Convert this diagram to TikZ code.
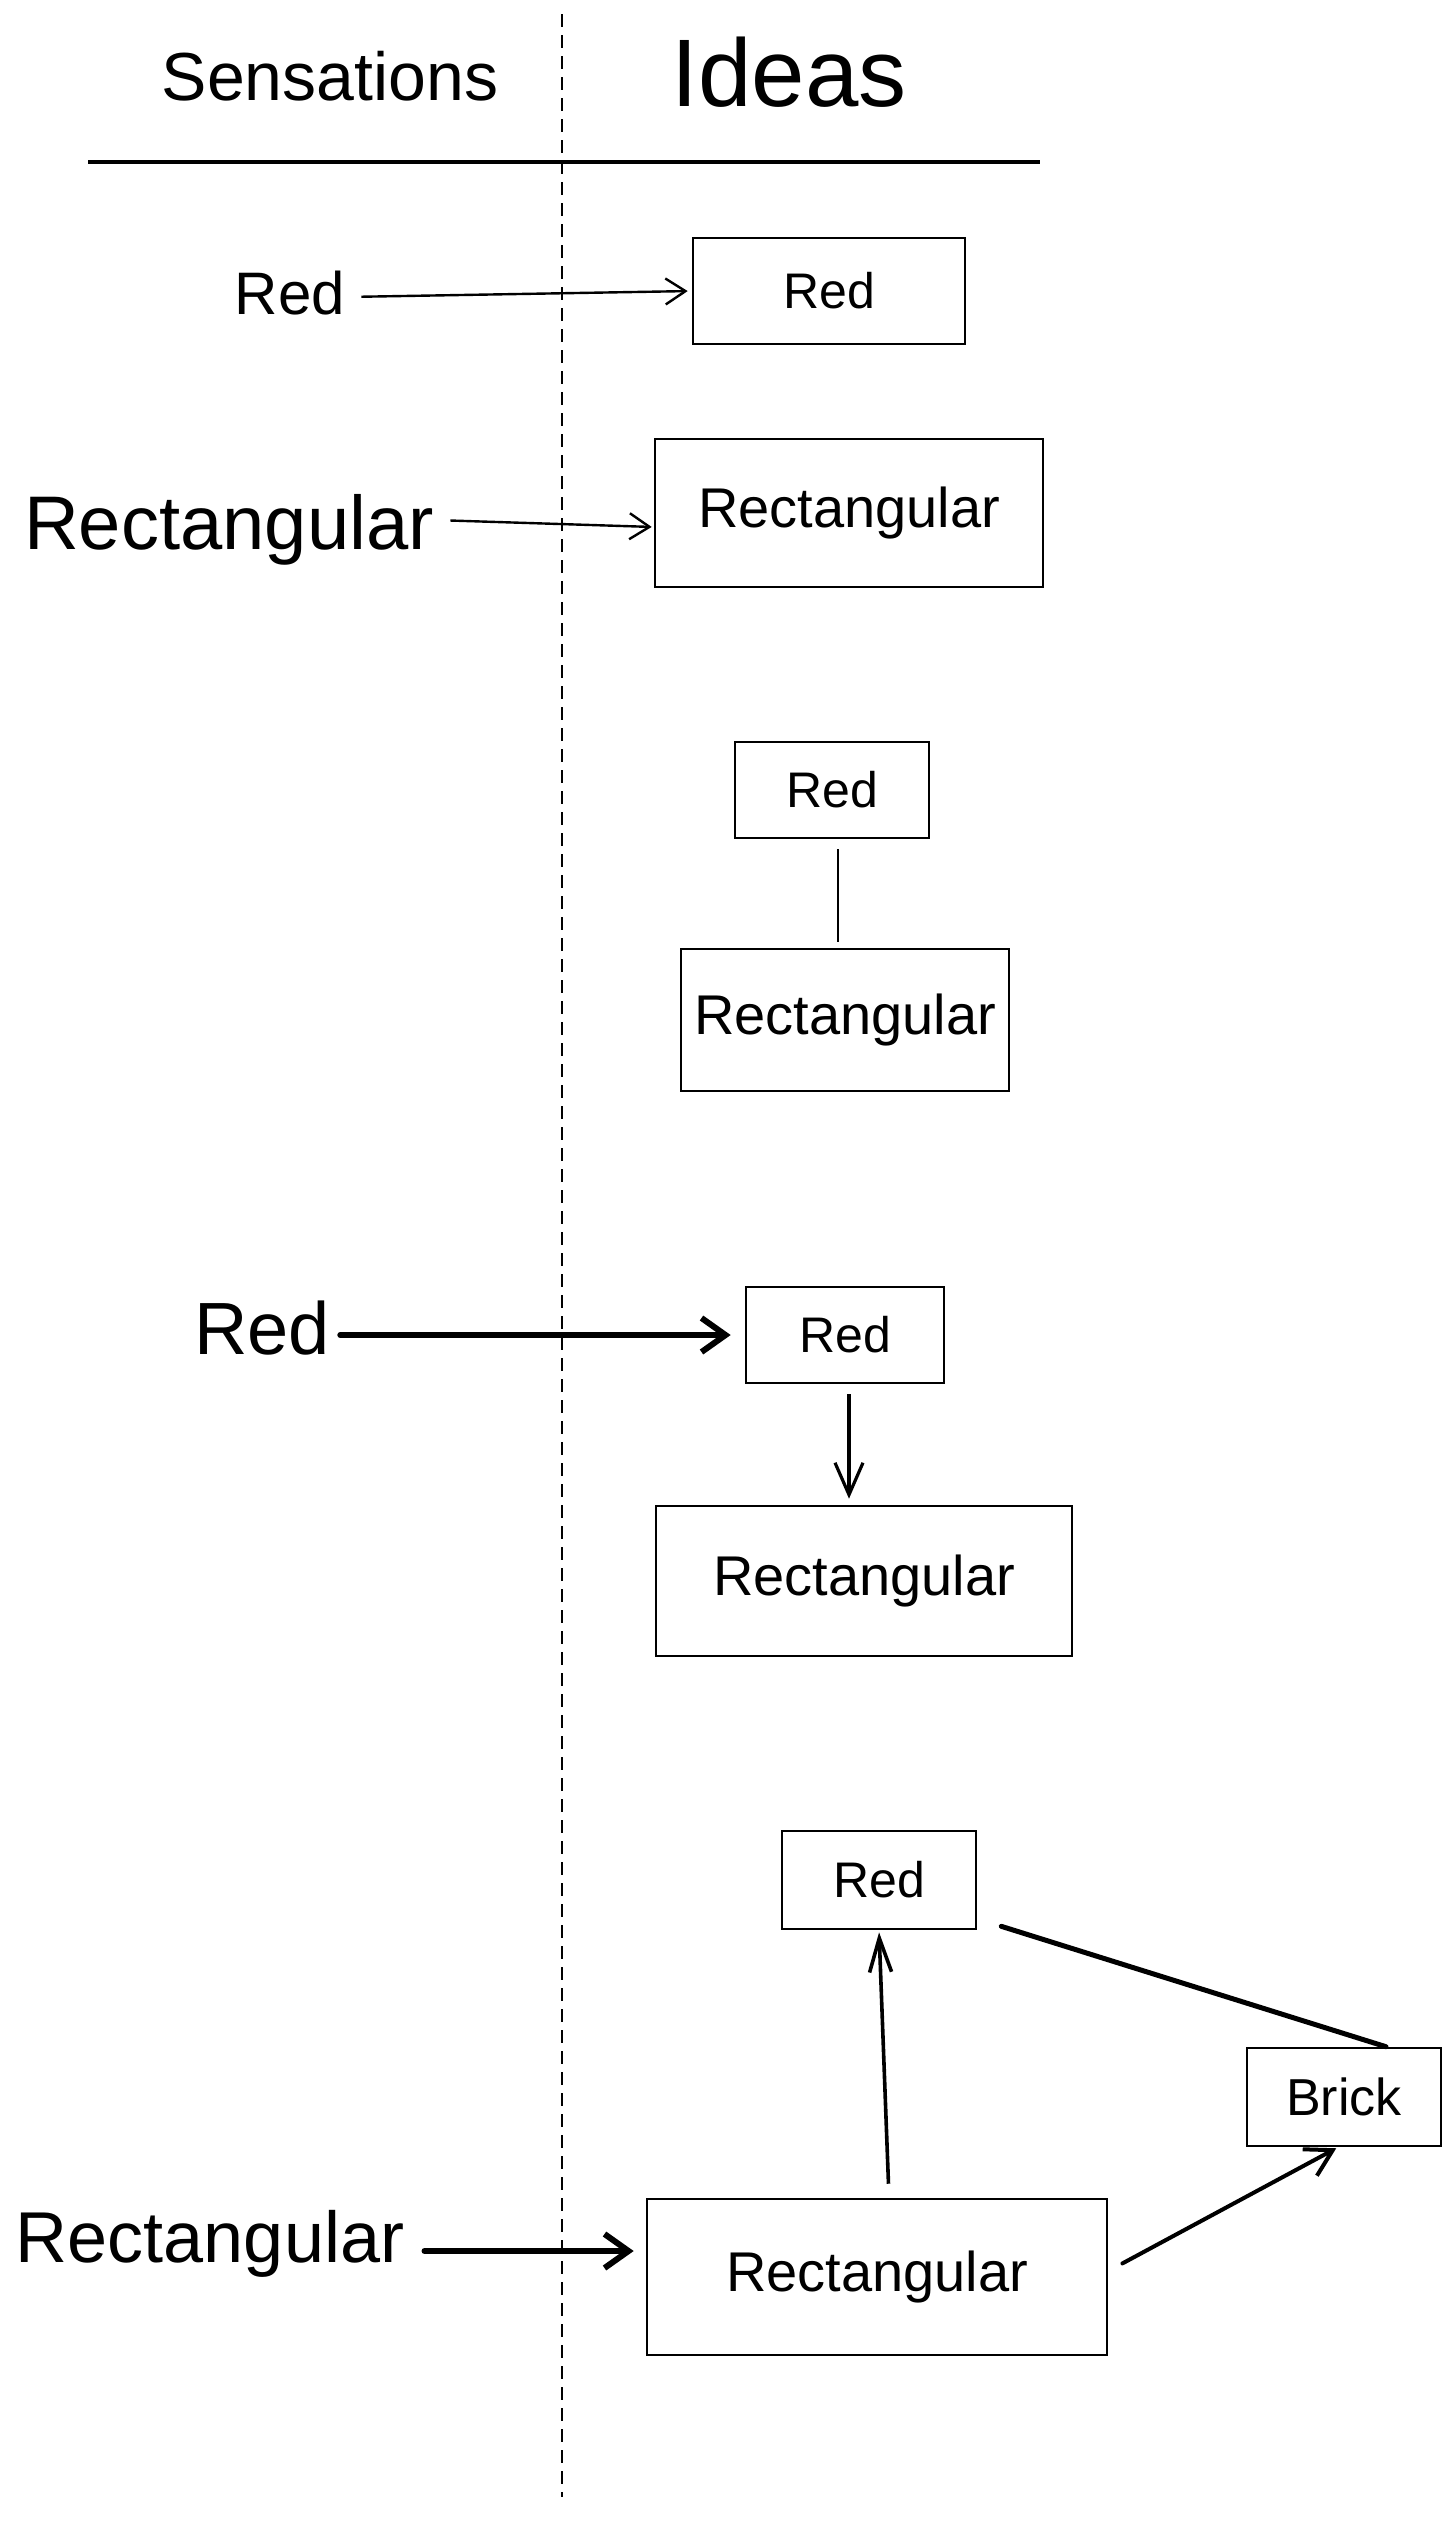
\documentclass[tikz,border=0pt]{standalone}
\usepackage{fontspec}
\setmainfont{Liberation Sans}
\usetikzlibrary{arrows.meta}
\tikzset{
  box/.style={draw, line width=1.3pt, inner sep=0pt, align=center},
  lbl/.style={inner sep=0pt},
  fs/.style={font=\fontsize{#1}{#1}\selectfont},
  thinline/.style={line width=1.2pt},
  thickline/.style={line width=3pt, line cap=round},
}
\begin{document}
\begin{tikzpicture}[x=0.5pt,y=-0.5pt]
\useasboundingbox[fill=white] (0,0) rectangle (1456,2524);

% header
\node[lbl, fs=34] (sens) at (330,76) {Sensations};
\node[lbl, fs=48] (ideas) at (789,72) {Ideas};
\coordinate (hl) at (88,162);
\coordinate (hr) at (1040,162);
\draw[line width=1.8pt] (hl) -- (hr);
\coordinate (dt) at (562,14);
\coordinate (db) at (562,2497);
\draw[line width=1pt, dash pattern=on 6.5pt off 4pt] (dt) -- (db);

% row 1
\node[box, minimum width=136pt, minimum height=53pt, fs=25] (b1) at (829,291) {Red};
\node[lbl, fs=30] (l1) at (290,293) {Red};
\draw[thinline, -{Straight Barb[length=10pt,width=13pt]}, shorten <=8pt, shorten >=2pt] ([yshift=-2pt]l1.east) -- (b1.west);

% row 2
\node[box, minimum width=194pt, minimum height=74pt, fs=28] (b2) at (849,513) {Rectangular};
\node[lbl, fs=38] (l2) at (229,530) {Rectangular};
\draw[thinline, -{Straight Barb[length=10pt,width=13pt]}, shorten <=8pt, shorten >=1pt] ([yshift=5pt]l2.east) -- ([yshift=-7pt]b2.west);

% row 3
\node[box, minimum width=97pt, minimum height=48pt, fs=25] (b3) at (832,790) {Red};
\node[box, minimum width=164pt, minimum height=71pt, fs=28] (b4) at (845,1020) {Rectangular};
\draw[line width=1pt, shorten <=5pt, shorten >=3pt] ([xshift=3pt]b3.south) -- ([xshift=3pt]b3.south |- b4.north);

% row 4
\node[lbl, fs=37] (l3) at (262,1328) {Red};
\node[box, minimum width=99pt, minimum height=48pt, fs=25] (b5) at (845,1335) {Red};
\node[box, minimum width=208pt, minimum height=75pt, fs=28] (b6) at (864,1581) {Rectangular};
\draw[thickline, -{Straight Barb[length=12pt,width=17pt]}, shorten <=5pt, shorten >=7pt] (l3.east |- b5.west) -- (b5.west);
\draw[line width=1.6pt, -{Straight Barb[length=16pt,width=14pt]}, shorten <=5pt, shorten >=3pt] ([xshift=2pt]b5.south) -- ([xshift=2pt]b5.south |- b6.north);

% row 5
\node[box, minimum width=97pt, minimum height=49pt, fs=25] (b7) at (879,1880) {Red};
\node[box, minimum width=97pt, minimum height=49pt, fs=26] (brick) at (1344,2097) {Brick};
\node[box, minimum width=230pt, minimum height=78pt, fs=28] (b8) at (877,2277) {Rectangular};
\node[lbl, fs=36] (l4) at (210,2244) {Rectangular};
\draw[thickline, -{Straight Barb[length=12pt,width=17pt]}, shorten <=10pt, shorten >=6pt] ([yshift=-3.5pt]l4.east) -- ([yshift=-3.5pt]l4.east -| b8.west);
\draw[line width=1.8pt, -{Straight Barb[length=17pt,width=11pt]}, shorten <=7pt, shorten >=1pt] ([xshift=6pt]b8.north) -- (b7.south);
\draw[line width=2.5pt, line cap=round] ([xshift=12pt, yshift=2pt]b7.south east) -- ([xshift=21pt]brick.north);
\draw[line width=2pt, line cap=round, -{Straight Barb[length=13pt,width=15pt]}, shorten <=8pt, shorten >=1pt] ([yshift=3pt]b8.east) -- ([xshift=-3pt]brick.south);
\end{tikzpicture}
\end{document}
